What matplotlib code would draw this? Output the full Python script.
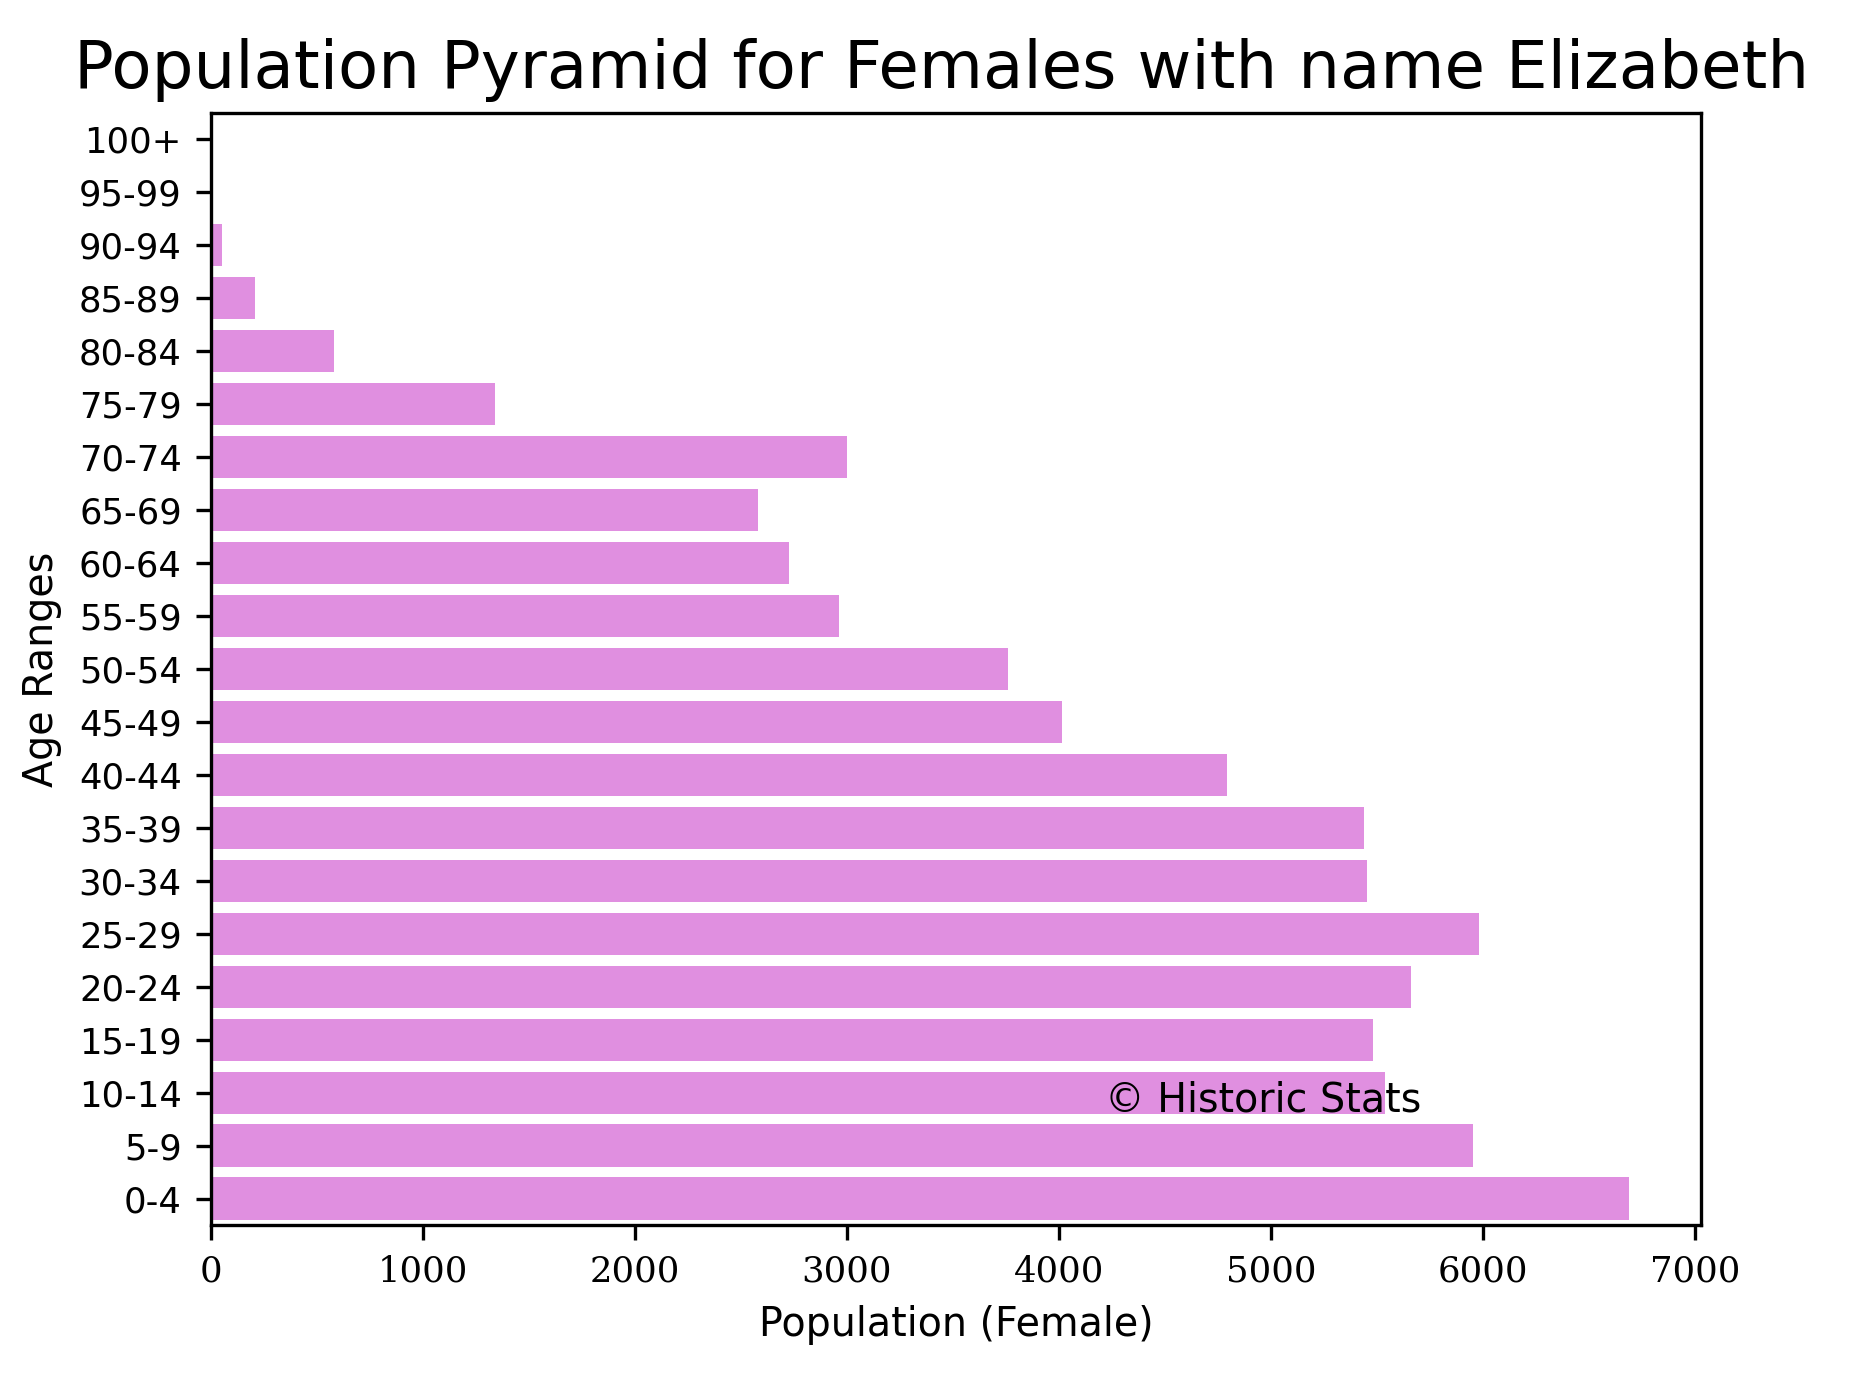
import matplotlib
matplotlib.use("Agg")
import matplotlib.pyplot as plt

ages = ["0-4","5-9","10-14","15-19","20-24","25-29","30-34","35-39","40-44","45-49",
        "50-54","55-59","60-64","65-69","70-74","75-79","80-84","85-89","90-94","95-99","100+"]
values = [6690,5955,5540,5480,5660,5980,5455,5440,4795,4015,3760,2965,2727,2582,3000,
          1340,580,206,50,5,0]
xticks = [0,1000,2000,3000,4000,5000,6000,7000]

plt.rcParams['font.family'] = ['DejaVu Sans']
fig = plt.figure(figsize=(1851/300, 1375/300), dpi=300)
ax = fig.add_axes([0.114, 0.109, 0.805, 0.809])
ax.barh(range(len(ages)), values, color="#E08FE0", height=0.8)
ax.set_yticks(range(len(ages)))
ax.set_yticklabels(ages, fontsize=8.5)
ax.set_ylim(-0.5, len(ages)-0.5)
ax.set_xlim(0, 7030)
ax.set_xticks(xticks)
ax.set_xticklabels([str(x) for x in xticks], fontsize=8.5, family='DejaVu Serif')
ax.set_xlabel("Population (Female)", fontsize=9.5)
ax.set_ylabel("Age Ranges", fontsize=9.5)
ax.set_title("Population Pyramid for Females with name Elizabeth", fontsize=15.8, x=0.49)
ax.text(4220, 2 - 0.15, "© Historic Stats", fontsize=9.5, va='center')
fig.savefig("out.png", dpi=300)
